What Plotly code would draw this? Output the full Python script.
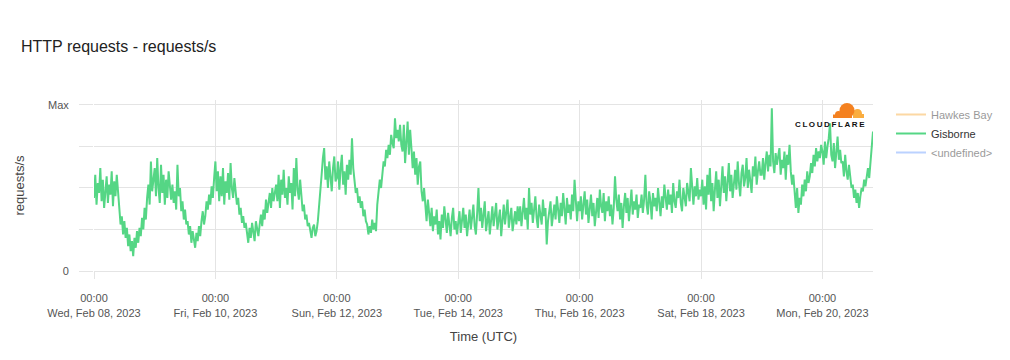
import pandas as pd
import plotly.graph_objects as go

# ---- data (half-hourly, share of max, 0..100) ----
start_time = "2023-02-08 00:00"
step = "30min"

block_feb08 = [44, 58, 40, 53, 47, 62, 42, 55, 38, 50, 57, 41, 52, 46, 60, 39, 54, 45, 58, 48,
               36, 28, 33, 22, 30, 20, 26, 15, 22, 12, 18, 9,
               20, 14, 24, 17, 26, 21, 32, 25, 38, 31,
               44, 52, 40, 66, 48, 58]
block_feb09 = [62, 45, 68, 50, 41, 64, 47, 58, 40, 55, 44, 60, 49, 43,
               52, 41, 48, 37, 64, 45, 50, 36, 42, 31, 37, 28,
               30, 22, 27, 17, 24, 20, 14, 23, 18, 27, 21, 30,
               36, 28, 33, 42, 37, 46, 40, 51, 44, 56]
block_feb10 = [66, 48, 60, 42, 57, 45, 62, 40, 54, 47, 59, 43, 65, 50, 44, 56,
               48, 40, 44, 34, 38, 29, 33, 26, 29, 22,
               17, 26, 20, 29, 22, 18, 30, 24, 21, 28,
               34, 27, 37, 31, 43, 35, 40, 47, 38, 50, 42, 48]
block_feb11 = [52, 42, 58, 38, 55, 46, 61, 44, 50, 40, 57, 47, 53, 37, 62, 45, 68, 49, 43, 55,
               44, 36, 40, 31, 34, 27, 29, 23, 20, 26,
               28, 21, 24, 30, 38, 50,
               58, 68, 74, 55, 63, 50, 66, 57, 48, 62, 69, 54]
block_feb12 = [56, 66, 49, 62, 70, 52, 60, 46, 64, 55, 67, 58,
               80, 62,
               55, 47, 50, 41, 45, 38, 42, 33, 37, 30,
               28, 22, 27, 23, 31, 25, 29, 24,
               40, 47, 55, 50,
               58, 66, 63, 73, 68, 76, 70, 82, 77, 74,
               92, 80, 85, 78, 88, 76]
block_feb13 = [72, 88, 65, 80, 90, 70, 85, 74,
               62, 72, 58, 68, 52, 63, 66, 48, 42, 50,
               36, 30, 43, 34, 27, 38,
               24, 33, 28, 37, 22, 30, 19, 34, 26, 39, 29, 23, 35, 27, 21, 32, 38, 25, 30, 22]
block_feb14 = [28, 36, 23, 31, 38, 26, 34, 21, 29, 37, 25, 33, 40, 27, 22, 35,
               50, 30, 38, 26, 33, 42, 24, 31, 36, 22, 29, 39, 27, 34, 41, 25,
               32, 37, 21, 30, 40, 28, 35, 43, 26, 33, 38, 24, 31, 36, 28, 39]
block_feb15 = [30, 39, 27, 36, 44, 31, 38, 25, 50, 34, 41, 29, 37, 45, 32, 26,
               40, 35, 28, 43, 33, 38, 16, 30, 36, 42, 27, 34, 40, 31, 45, 37,
               29, 41, 33, 47, 38, 28, 44, 35, 40, 31, 46, 36, 55, 39, 30, 42]
block_feb16 = [36, 45, 31, 40, 48, 34, 43, 29, 38, 46, 33, 41, 27, 37, 44, 32,
               49, 39, 35, 47, 30, 42, 36, 45, 33, 40, 28, 38, 57, 43, 36, 46,
               31, 41, 26, 39, 47, 35, 44, 30, 40, 49, 34, 42, 37, 46, 32, 40]
block_feb17 = [38, 46, 35, 43, 58, 40, 34, 48, 42, 31, 47, 39, 44, 36, 50, 41,
               33, 45, 38, 52, 43, 37, 49, 40, 46, 35, 53, 42, 38, 48, 44, 55,
               41, 36, 50, 45, 39, 53, 47, 42, 62, 48, 40, 51, 45, 56, 43, 49]
block_feb18 = [45, 55, 40, 51, 37, 58, 46, 62, 42, 53, 36, 49, 60, 44, 55, 39,
               50, 63, 47, 57, 42, 52, 65, 48, 58, 44, 54, 61, 49, 66, 53, 45,
               59, 64, 51, 56, 68, 50, 61, 55, 47, 63, 57, 69, 52, 60, 66, 58]
block_feb19 = [58, 68, 55, 65, 72, 60, 70, 63, 98, 66, 59, 71, 64, 69,
               74, 58, 67, 62, 72, 55, 70, 64, 76, 60, 52, 58,
               46, 38, 50, 35, 44, 40, 52, 45,
               55, 48, 60, 53, 57, 65, 59, 70, 63, 74, 66, 72, 68, 76]
block_feb20 = [72, 64, 78, 68, 75, 80, 89, 70, 66, 77, 62, 74, 81, 67, 73, 65,
               66, 57, 70, 60, 55, 64, 58, 50,
               52, 44, 49, 41, 47, 38, 45, 50,
               48, 55, 51, 58, 62, 56, 66, 72, 84]

gisborne = (block_feb08 + block_feb09 + block_feb10 + block_feb11 + block_feb12
            + block_feb13 + block_feb14 + block_feb15 + block_feb16 + block_feb17
            + block_feb18 + block_feb19 + block_feb20)
times = pd.date_range(start_time, periods=len(gisborne), freq=step)

y_tickvals = [0, 25, 50, 75, 100]
y_ticktext = ["0", "", "", "", "Max"]

series_names = ["Hawkes Bay", "Gisborne", "<undefined>"]
series_colors = ["#fbb24a", "#55d685", "#7aa7ff"]

# ---- layout geometry (page has an 8px body margin) ----
OFF = 8
W, H = 1010 - OFF, 360 - OFF
L, R, T, B = 94 - OFF, 137, 100 - OFF, 89
PW, PH = W - L - R, H - T - B


def px(x):
    return (x - OFF - L) / PW


def py(y):
    return (H - B - (y - OFF)) / PH


fig = go.Figure()
fig.add_trace(go.Scatter(x=[times[0]], y=[None], name=series_names[0], mode="lines",
                         line=dict(color=series_colors[0], width=2), visible="legendonly"))
fig.add_trace(go.Scatter(x=times, y=gisborne, name=series_names[1], mode="lines",
                         line=dict(color=series_colors[1], width=2)))
fig.add_trace(go.Scatter(x=[times[0]], y=[None], name=series_names[2], mode="lines",
                         line=dict(color=series_colors[2], width=2), visible="legendonly"))

grid = "#e4e4e4"
font = "Liberation Sans, Arial, sans-serif"

# Cloudflare logo shapes
orange = "#f48120"
light = "#faad3f"
shapes = []


def circ(cx, cy, r, color):
    shapes.append(dict(type="circle", xref="paper", yref="paper",
                       x0=px(cx - r), x1=px(cx + r), y0=py(cy + r), y1=py(cy - r),
                       fillcolor=color, line=dict(width=0), layer="above"))


def rect(x0, y0, x1, y1, color):
    shapes.append(dict(type="rect", xref="paper", yref="paper",
                       x0=px(x0), x1=px(x1), y0=py(y1), y1=py(y0),
                       fillcolor=color, line=dict(width=0), layer="above"))


circ(857.5, 113.5, 4.5, light)
rect(853, 114, 864, 118, light)
circ(847, 110.5, 7.5, orange)
circ(838.5, 114.5, 3.5, orange)
rect(833, 114.5, 852, 118, orange)

fig.update_layout(
    width=W, height=H,
    margin=dict(l=L, r=R, t=T, b=B, autoexpand=False),
    paper_bgcolor="white", plot_bgcolor="white",
    font=dict(family=font, size=11, color="#555"),
    title=dict(text="HTTP requests - requests/s", xref="container", yref="container",
               x=(21 - OFF) / W, xanchor="left", y=1 - (46 - OFF) / H, yanchor="middle",
               font=dict(size=16, color="#222", family=font)),
    xaxis=dict(
        type="date",
        range=[times[0], times[-1]],
        tick0=times[0], dtick=2 * 86400000,
        tickformat="%H:%M<br>%a, %b %d, %Y",
        showgrid=True, gridcolor=grid, gridwidth=1,
        ticks="outside", ticklen=7, tickcolor=grid,
        showline=False, zeroline=False, automargin=False,
        tickfont=dict(size=11, color="#555"),
        ticklabelstandoff=10,
        title=dict(text="Time (UTC)", font=dict(size=13, color="#444"), standoff=14),
    ),
    yaxis=dict(
        range=[0, 103],
        tickvals=y_tickvals, ticktext=y_ticktext,
        showgrid=True, gridcolor=grid, gridwidth=1,
        ticks="outside", ticklen=14, tickcolor=grid,
        zeroline=True, zerolinecolor=grid, zerolinewidth=1,
        showline=False, automargin=False,
        tickfont=dict(size=11, color="#555"),
        ticklabelstandoff=8,
        title=dict(text="requests/s", font=dict(size=13, color="#444"), standoff=20),
    ),
    legend=dict(x=px(891), xanchor="left", y=1, yanchor="top",
                font=dict(size=11, color="#333"), tracegroupgap=0,
                bgcolor="rgba(0,0,0,0)"),
    showlegend=True,
    shapes=shapes,
    annotations=[dict(text="C\u2009L\u2009O\u2009U\u2009D\u2009F\u2009L\u2009A\u2009R\u2009E",
                      xref="paper", yref="paper", x=px(830), y=py(124),
                      xanchor="center", yanchor="middle", showarrow=False,
                      font=dict(family="Liberation Sans, Arial", size=8, color="#111",
                                weight="bold"))],
)

fig.write_html("out.html")
